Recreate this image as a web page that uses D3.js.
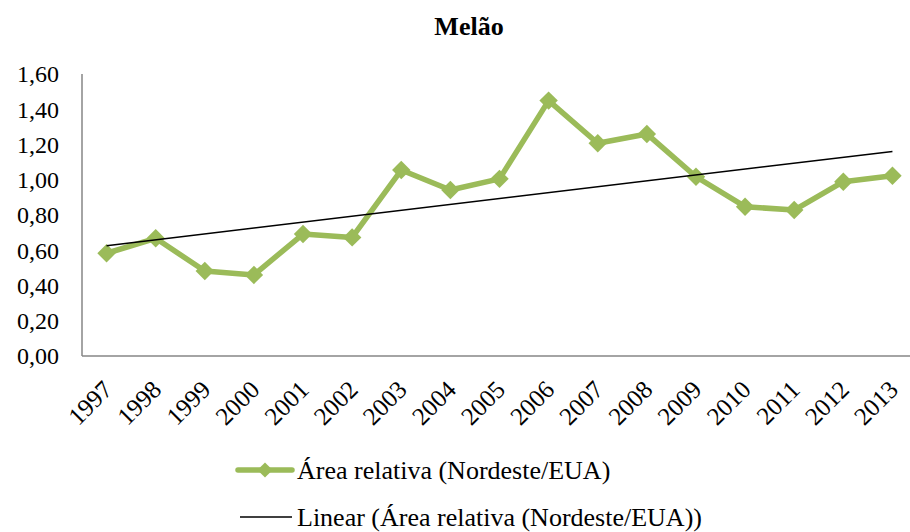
<!DOCTYPE html>
<html>
<head>
<meta charset="utf-8">
<script src="https://cdn.jsdelivr.net/npm/d3@7"></script>
<style>
  body { margin: 0; background: #fff; }
  text { font-family: "Liberation Serif", "Times New Roman", serif; fill: #000; }
</style>
</head>
<body>
<script>
const years = ["1997","1998","1999","2000","2001","2002","2003","2004","2005",
               "2006","2007","2008","2009","2010","2011","2012","2013"];
const areaRelativa = [0.583, 0.668, 0.482, 0.460, 0.692, 0.673, 1.055, 0.942, 1.005,
                      1.449, 1.207, 1.260, 1.017, 0.847, 0.828, 0.989, 1.023];
const yTicks = [0, 0.2, 0.4, 0.6, 0.8, 1.0, 1.2, 1.4, 1.6];
const chartTitle = "Melão";
const seriesName = "Área relativa (Nordeste/EUA)";
const trendName = "Linear (Área relativa (Nordeste/EUA))";

const width = 910, height = 532;
const plotLeft = 82, plotRight = 917, plotTop = 74, plotBottom = 356;

const svg = d3.select("body").append("svg")
    .attr("width", width)
    .attr("height", height);

const x = d3.scaleBand()
    .domain(years)
    .range([plotLeft, plotRight]);

const y = d3.scaleLinear()
    .domain([0, 1.6])
    .range([plotBottom, plotTop]);

const cx = d => x(d) + x.bandwidth() / 2;

// title
svg.append("text")
    .attr("x", 469)
    .attr("y", 35)
    .attr("text-anchor", "middle")
    .style("font-weight", "bold")
    .style("font-size", "26px")
    .text(chartTitle);

// axis lines
svg.append("line")
    .attr("x1", plotLeft).attr("x2", plotLeft)
    .attr("y1", y(1.6)).attr("y2", y(0))
    .attr("stroke", "#868686").attr("stroke-width", 1.5);
svg.append("line")
    .attr("x1", plotLeft).attr("x2", plotRight)
    .attr("y1", y(0)).attr("y2", y(0))
    .attr("stroke", "#868686").attr("stroke-width", 1.5);

// y tick labels
svg.append("g").selectAll("text")
    .data(yTicks)
    .join("text")
    .attr("x", 59)
    .attr("y", d => y(d))
    .attr("dy", "0.35em")
    .attr("text-anchor", "end")
    .style("font-size", "24px")
    .text(d => d.toFixed(2).replace(".", ","));

// x tick labels, rotated
svg.append("g").selectAll("text")
    .data(years)
    .join("text")
    .attr("text-anchor", "end")
    .attr("transform", d => `translate(${cx(d) + 1},${y(0) + 29}) rotate(-45)`)
    .attr("dy", "0.35em")
    .style("font-size", "25px")
    .text(d => d);

// series line + markers
const green = "#9BBB59";
const line = d3.line()
    .x((d, i) => cx(years[i]))
    .y(d => y(d));

svg.append("path")
    .datum(areaRelativa)
    .attr("fill", "none")
    .attr("stroke", green)
    .attr("stroke-width", 5.5)
    .attr("stroke-linejoin", "round")
    .attr("d", line);

svg.append("g").selectAll("path")
    .data(areaRelativa)
    .join("path")
    .attr("transform", (d, i) => `translate(${cx(years[i])},${y(d)}) rotate(45)`)
    .attr("d", d3.symbol().type(d3.symbolSquare).size(170))
    .attr("fill", green);

// linear trend (least squares)
const n = areaRelativa.length;
const mx = d3.mean(d3.range(n));
const my = d3.mean(areaRelativa);
const slope = d3.sum(areaRelativa, (v, i) => (i - mx) * (v - my)) /
              d3.sum(d3.range(n), i => (i - mx) * (i - mx));
const intercept = my - slope * mx;

svg.append("line")
    .attr("x1", cx(years[0])).attr("y1", y(intercept))
    .attr("x2", cx(years[n - 1])).attr("y2", y(intercept + slope * (n - 1)))
    .attr("stroke", "#000").attr("stroke-width", 1.5);

// legend
const lg = svg.append("g");
lg.append("line")
    .attr("x1", 238).attr("x2", 292).attr("y1", 470).attr("y2", 470)
    .attr("stroke", green).attr("stroke-width", 5.5).attr("stroke-linecap", "round");
lg.append("path")
    .attr("transform", "translate(265,470) rotate(45)")
    .attr("d", d3.symbol().type(d3.symbolSquare).size(115))
    .attr("fill", green);
lg.append("text")
    .attr("x", 297).attr("y", 470).attr("dy", "0.35em")
    .style("font-size", "26px")
    .text(seriesName);

lg.append("line")
    .attr("x1", 240).attr("x2", 292).attr("y1", 517).attr("y2", 517)
    .attr("stroke", "#000").attr("stroke-width", 1.5);
lg.append("text")
    .attr("x", 297).attr("y", 517).attr("dy", "0.35em")
    .style("font-size", "26px")
    .text(trendName);
</script>
</body>
</html>
